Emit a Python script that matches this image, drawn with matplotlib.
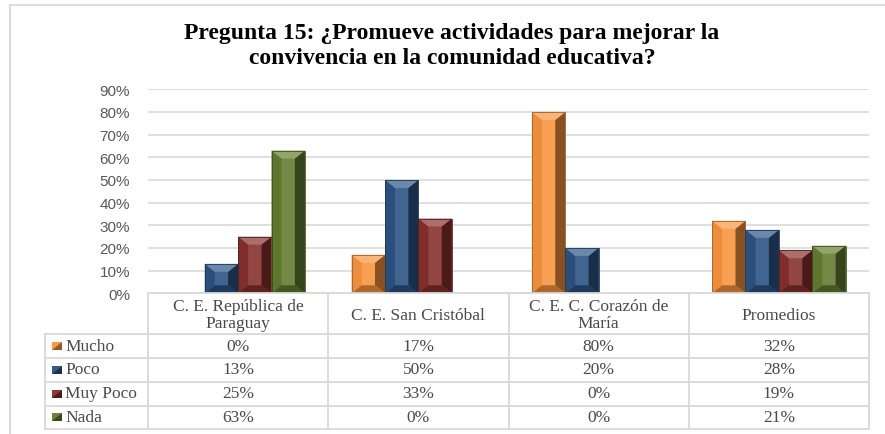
import matplotlib
matplotlib.use("Agg")
import matplotlib.pyplot as plt
from matplotlib.patches import Polygon, Rectangle
from matplotlib.lines import Line2D
from matplotlib.colors import to_rgb
import numpy as np

# ---- data -------------------------------------------------------------
title = "Pregunta 15: ¿Promueve actividades para mejorar la\nconvivencia en la comunidad educativa?"
categories = ["C. E. República de\nParaguay", "C. E. San Cristóbal",
              "C. E. C. Corazón de\nMaría", "Promedios"]
series = ["Mucho", "Poco", "Muy Poco", "Nada"]
mucho = [0, 17, 80, 32]
poco = [13, 50, 20, 28]
muy_poco = [25, 33, 0, 19]
nada = [63, 0, 0, 21]
values = [mucho, poco, muy_poco, nada]
yticks = [0, 10, 20, 30, 40, 50, 60, 70, 80, 90]
colors = ["#F7943F", "#2C5384", "#86302D", "#637C30"]

# ---- layout (pixel based) ---------------------------------------------
W, H = 885, 435
DPI = 100


def fx(px):
    return px / W


def fy(py):
    return 1 - py / H


def shade(c, f):
    c = np.array(to_rgb(c))
    if f >= 0:
        return tuple(c + (1 - c) * f)
    return tuple(c * (1 + f))


fig = plt.figure(figsize=(W / DPI, H / DPI), dpi=DPI)
fig.patch.set_facecolor("white")

# outer chart frame (top and left edges)
frame_col = "#D9D9D9"
fig.add_artist(Line2D([fx(10), fx(885)], [fy(6), fy(6)], color=frame_col, lw=1.3))
fig.add_artist(Line2D([fx(10), fx(10)], [fy(6), fy(435)], color=frame_col, lw=1.3))

# plot area
x_left, x_right = 148, 869
y_top, y_bot = 90.3, 294.3
ax = fig.add_axes([fx(x_left), fy(y_bot), fx(x_right) - fx(x_left), fy(y_top) - fy(y_bot)])
ax.set_xlim(-0.5, len(categories) - 0.5)
ax.set_ylim(0, 90)
ax.set_yticks(yticks)
ax.set_yticklabels([f"{t}%" for t in yticks], fontsize=11, color="#595959",
                   family="Liberation Sans")
ax.tick_params(axis="y", length=0, pad=13)
ax.set_xticks([])
for s in ax.spines.values():
    s.set_visible(False)
ax.yaxis.grid(True, color="#D9D9D9", lw=1.2)
ax.set_axisbelow(True)

# bars: gap width 140% -> bar width = 1 / (4 + 1.4)
n = len(series)
bw = 1 / (n + 1.4)
xs = np.arange(len(categories))
px_per_x = (x_right - x_left) / len(categories)
px_per_y = (y_bot - y_top) / 90
bx = 10 / px_per_x
by_full = 8 / px_per_y

for k, (name, vals, col) in enumerate(zip(series, values, colors)):
    offs = (k - (n - 1) / 2) * bw
    bars = ax.bar(xs + offs, vals, width=bw, color=shade(col, 0.1), edgecolor="none",
                  zorder=2)
    for b in bars:
        x0, w, h = b.get_x(), b.get_width(), b.get_height()
        if h <= 0:
            continue
        by = min(by_full, h / 2)
        x1 = x0 + w
        polys = [
            # left bevel
            ([(x0, 0), (x0, h), (x0 + bx, h - by), (x0 + bx, by)], shade(col, -0.05)),
            # right bevel
            ([(x1, 0), (x1, h), (x1 - bx, h - by), (x1 - bx, by)], shade(col, -0.45)),
            # top bevel
            ([(x0, h), (x1, h), (x1 - bx, h - by), (x0 + bx, h - by)], shade(col, 0.3)),
            # bottom bevel
            ([(x0, 0), (x1, 0), (x1 - bx, by), (x0 + bx, by)], shade(col, -0.3)),
        ]
        for pts, c in polys:
            ax.add_patch(Polygon(pts, closed=True, facecolor=c, edgecolor="none", zorder=3))
        ax.add_patch(Rectangle((x0, 0), w, h, facecolor="none",
                               edgecolor=shade(col, -0.35), lw=0.6, zorder=4))

# ---- data table -------------------------------------------------------
tcol = "#D9D9D9"
tlw = 1.3
col_edges = [x_left + i * (x_right - x_left) / len(categories) for i in range(len(categories) + 1)]
row_edges = [y_bot, 335, 358.5, 382.5, 406.5, 430]
label_left = 45

# axis line / header top
fig.add_artist(Line2D([fx(x_left), fx(x_right)], [fy(y_bot), fy(y_bot)], color=tcol, lw=tlw))
for xe in col_edges:
    fig.add_artist(Line2D([fx(xe), fx(xe)], [fy(y_bot), fy(430)], color=tcol, lw=tlw))
fig.add_artist(Line2D([fx(label_left), fx(label_left)], [fy(335), fy(430)], color=tcol, lw=tlw))
for ye in row_edges[1:]:
    fig.add_artist(Line2D([fx(label_left), fx(x_right)], [fy(ye), fy(ye)], color=tcol, lw=tlw))

txt_col = "#4A4A4A"
serif = "Liberation Serif"
tsize = 12.5
for i, cat in enumerate(categories):
    cx = (col_edges[i] + col_edges[i + 1]) / 2
    cy = (row_edges[0] + row_edges[1]) / 2
    fig.text(fx(cx), fy(cy + 1), cat, ha="center", va="center", fontsize=tsize,
             family=serif, color=txt_col, linespacing=1.1)

for r, (name, vals, col) in enumerate(zip(series, values, colors)):
    cy = (row_edges[r + 1] + row_edges[r + 2]) / 2
    # legend key
    kx, kw, kh = 52, 10, 8
    fig.add_artist(Rectangle((fx(kx), fy(cy + kh / 2)), fx(kw), fy(0) - fy(kh),
                             facecolor=shade(col, 0.05), edgecolor="none"))
    fig.add_artist(Polygon([(fx(kx), fy(cy + kh / 2)), (fx(kx + kw), fy(cy + kh / 2)),
                            (fx(kx + kw), fy(cy - kh / 2))], closed=True,
                           facecolor=shade(col, -0.4), edgecolor="none"))
    fig.text(fx(kx + kw + 3), fy(cy), name, ha="left", va="center", fontsize=tsize,
             family=serif, color=txt_col)
    for i, v in enumerate(vals):
        cx = (col_edges[i] + col_edges[i + 1]) / 2
        fig.text(fx(cx), fy(cy), f"{v}%", ha="center", va="center", fontsize=tsize,
                 family=serif, color=txt_col)

# ---- title ------------------------------------------------------------
fig.text(fx(452), fy(46), title, ha="center", va="center", fontsize=17,
         family=serif, weight="bold", color="black", linespacing=1.2)

fig.savefig("out.png", dpi=DPI, facecolor="white")
